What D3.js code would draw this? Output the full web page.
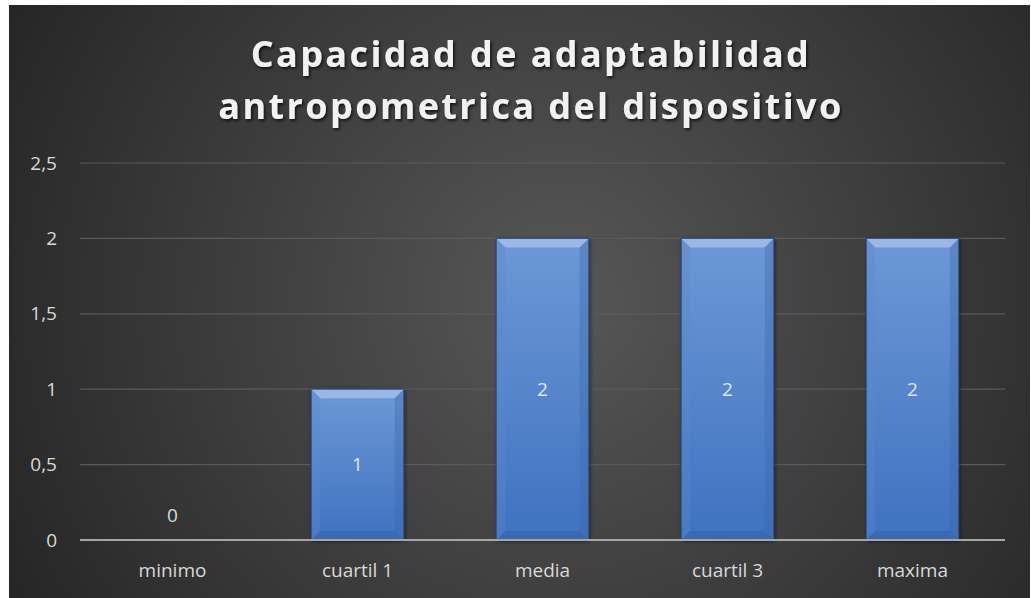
<!DOCTYPE html>
<html><head><meta charset="utf-8">
<script src="https://cdn.jsdelivr.net/npm/d3@7"></script>
<style>body{margin:0;background:#fff;}svg{display:block;}</style>
</head><body>
<svg id="chart" width="1031" height="598"></svg>
<script>
const categories = ["minimo", "cuartil 1", "media", "cuartil 3", "maxima"];
const values = [0, 1, 2, 2, 2];
const yTicks = [0, 0.5, 1, 1.5, 2, 2.5];
const titleLines = ["Capacidad de adaptabilidad", "antropometrica del dispositivo"];

const svg = d3.select("#chart");
const defs = svg.append("defs");

const bg = defs.append("radialGradient").attr("id","bg")
  .attr("gradientUnits","userSpaceOnUse").attr("cx",560).attr("cy",300).attr("r",620);
bg.append("stop").attr("offset","0").attr("stop-color","#575757");
bg.append("stop").attr("offset","1").attr("stop-color","#262626");

const bar = defs.append("linearGradient").attr("id","bar").attr("x1",0).attr("y1",0).attr("x2",0).attr("y2",1);
bar.append("stop").attr("offset","0").attr("stop-color","#6e98d6");
bar.append("stop").attr("offset","1").attr("stop-color","#3e72c0");

const sh = defs.append("filter").attr("id","tsh").attr("x","-10%").attr("y","-30%").attr("width","120%").attr("height","160%");
sh.append("feDropShadow").attr("dx",1.5).attr("dy",2).attr("stdDeviation",1.5).attr("flood-color","#000").attr("flood-opacity",0.7);
const bsh = defs.append("filter").attr("id","bsh").attr("x","-20%").attr("y","-10%").attr("width","140%").attr("height","120%");
bsh.append("feDropShadow").attr("dx",1).attr("dy",1).attr("stdDeviation",2).attr("flood-color","#000").attr("flood-opacity",0.6);

svg.append("rect").attr("x",9).attr("y",5).attr("width",1021).attr("height",593).attr("fill","url(#bg)");

const x0 = 80, x1 = 1005, yBase = 540, yTop = 163;
const x = d3.scaleBand().domain(categories).range([x0, x1]).paddingInner(0.5).paddingOuter(0.25);
const y = d3.scaleLinear().domain([0, 2.5]).range([yBase, yTop]);
const font = "'Open Sans', sans-serif";

// gridlines
svg.append("g").selectAll("line").data(yTicks.filter(d=>d>0)).join("line")
  .attr("x1",x0).attr("x2",x1).attr("y1",d=>y(d)).attr("y2",d=>y(d))
  .attr("stroke","#5a5a5a").attr("stroke-width",1.2);

// y tick labels
svg.append("g").selectAll("text").data(yTicks).join("text")
  .attr("x",57).attr("y",d=>y(d)).attr("dy","0.35em").attr("text-anchor","end")
  .attr("font-family",font).attr("font-size",19).attr("fill","#d9d9d9")
  .text(d=>String(d).replace(".",","));

// bars
const rows = values.map((v,i)=>({c:categories[i],v}));
const bars = svg.append("g").selectAll("g").data(rows).join("g");
bars.filter(d=>d.v>0).each(function(d){
  const g = d3.select(this);
  const bx = x(d.c), bw = x.bandwidth(), by = y(d.v), bh = y(0)-y(d.v);
  g.append("rect").attr("x",bx).attr("y",by).attr("width",bw).attr("height",bh)
    .attr("fill","url(#bar)").attr("filter","url(#bsh)");
  const b = 9;
  g.append("path").attr("d",`M${bx},${by}L${bx+bw},${by}L${bx+bw-b},${by+b}L${bx+b},${by+b}Z`)
    .attr("fill","#a9c3ea").attr("opacity",0.75);
  g.append("path").attr("d",`M${bx},${by}L${bx+b},${by+b}L${bx+b},${by+bh-b}L${bx},${by+bh}Z`)
    .attr("fill","#5d89cc").attr("opacity",0.35);
  g.append("path").attr("d",`M${bx+bw},${by}L${bx+bw-b},${by+b}L${bx+bw-b},${by+bh-b}L${bx+bw},${by+bh}Z`)
    .attr("fill","#3b66aa").attr("opacity",0.35);
  g.append("path").attr("d",`M${bx},${by+bh}L${bx+b},${by+bh-b}L${bx+bw-b},${by+bh-b}L${bx+bw},${by+bh}Z`)
    .attr("fill","#2f5a9c").attr("opacity",0.35);
  g.append("rect").attr("x",bx).attr("y",by).attr("width",bw).attr("height",bh)
    .attr("fill","none").attr("stroke","#2c4f86").attr("stroke-width",1);
});

// data labels
svg.append("g").selectAll("text").data(rows).join("text")
  .attr("x",d=>x(d.c)+x.bandwidth()/2)
  .attr("y",d=>d.v>0 ? (y(d.v)+y(0))/2 : y(0)-25)
  .attr("dy","0.35em").attr("text-anchor","middle")
  .attr("font-family",font).attr("font-size",19)
  .attr("fill",d=>d.v>0?"#e2e8f2":"#d9d9d9")
  .text(d=>d.v);

// baseline
svg.append("line").attr("x1",x0).attr("x2",x1).attr("y1",yBase).attr("y2",yBase)
  .attr("stroke","#a6a6a6").attr("stroke-width",2);

// category labels
svg.append("g").selectAll("text").data(categories).join("text")
  .attr("x",d=>x(d)+x.bandwidth()/2).attr("y",570).attr("dy","0.35em").attr("text-anchor","middle")
  .attr("font-family",font).attr("font-size",19).attr("fill","#d9d9d9")
  .text(d=>d);

// title
svg.append("g").selectAll("text").data(titleLines).join("text")
  .attr("x",531).attr("y",(d,i)=>67+i*52).attr("text-anchor","middle")
  .attr("font-family",font).attr("font-weight","bold").attr("font-size",36)
  .attr("letter-spacing",2.4).attr("fill","#f2f2f2").attr("filter","url(#tsh)")
  .text(d=>d);
</script>
</body></html>
